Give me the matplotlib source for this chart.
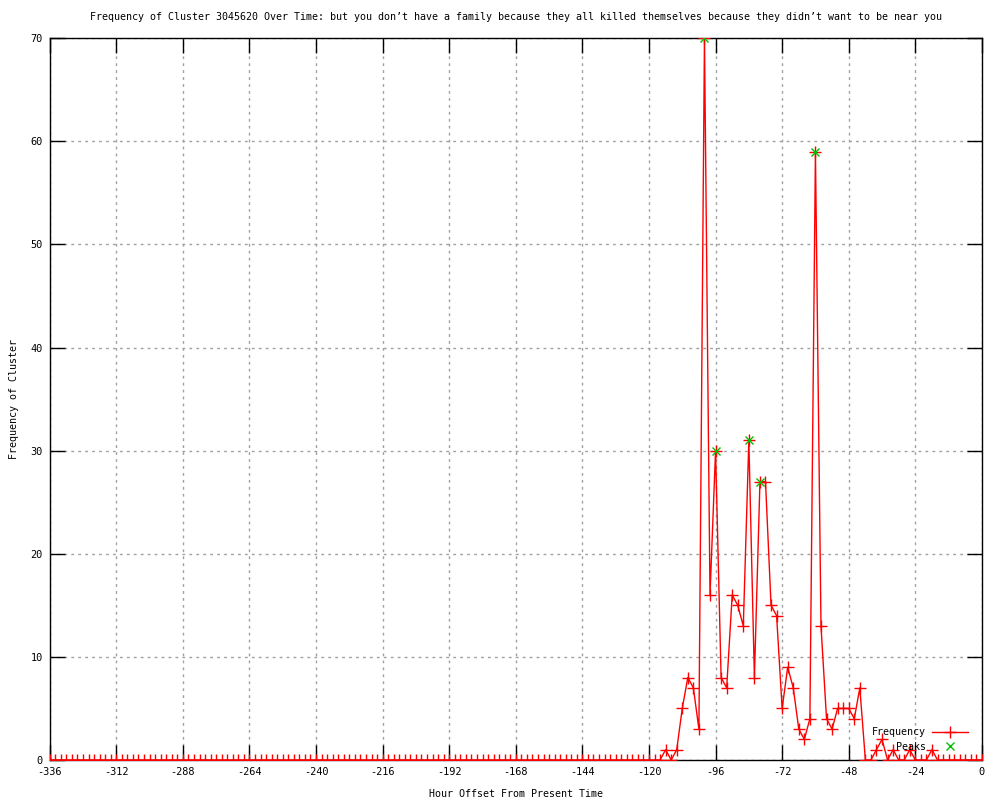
import numpy as np
import matplotlib.pyplot as plt

plt.rcParams['font.family'] = ['DejaVu Sans Mono']
plt.rcParams['axes.unicode_minus'] = False

# hour offsets, one point every 2 hours
hours = np.arange(-336, 1, 2)

# frequency (zeros until -116)
frequency = [0] * 111 + [
    1, 0, 1, 5, 8, 7, 3, 70,
    16, 30, 8, 7, 16, 15, 13, 31, 8, 27, 27, 15, 14, 5, 9, 7, 3, 2, 4, 59,
    13, 4, 3, 5, 5, 5, 4, 7, 0,
    0, 1, 2, 0, 1, 0, 0, 1, 0, 0, 0, 1, 0, 0, 0, 0, 0, 0, 0, 0, 0,
]

peak_hours = [-100, -96, -84, -80, -60]
peak_values = [70, 30, 31, 27, 59]

title = ("Frequency of Cluster 3045620 Over Time: but you don\u2019t have a family "
         "because they all killed themselves because they didn\u2019t want to be near you")

fig = plt.figure(figsize=(10, 8), dpi=100)
ax = fig.add_axes([0.0497, 0.05, 0.9322, 0.9022])

ax.plot(hours, frequency, color='red', lw=1, marker='+', ms=8, mew=1,
        label='Frequency', zorder=3)
ax.plot(peak_hours, peak_values, ls='none', color='#00c000', marker='x', ms=6, mew=1,
        label='Peaks', zorder=4)

ax.set_xlim(-336, 0)
ax.set_ylim(0, 70)
ax.set_xticks(np.arange(-336, 1, 24))
ax.set_yticks(np.arange(0, 71, 10))
ax.tick_params(direction='in', length=11, width=1, top=True, right=True,
               labelsize=7.4, pad=5)
ax.grid(True, color='#a0a0a0', ls=(0, (2, 3)), lw=1)
for s in ax.spines.values():
    s.set_linewidth(1)

ax.set_title(title, fontsize=7.2, pad=13)
ax.set_xlabel('Hour Offset From Present Time', fontsize=7.2, labelpad=9)
ax.set_ylabel('Frequency of Cluster', fontsize=7.2, labelpad=8)

ax.legend(loc='lower right', bbox_to_anchor=(0.973, 0.054), bbox_transform=fig.transFigure,
          frameon=False, markerfirst=False, fontsize=7.2, handlelength=3.6,
          labelspacing=0.45, borderpad=0, handletextpad=0.6)

fig.savefig('out.png', dpi=100)
